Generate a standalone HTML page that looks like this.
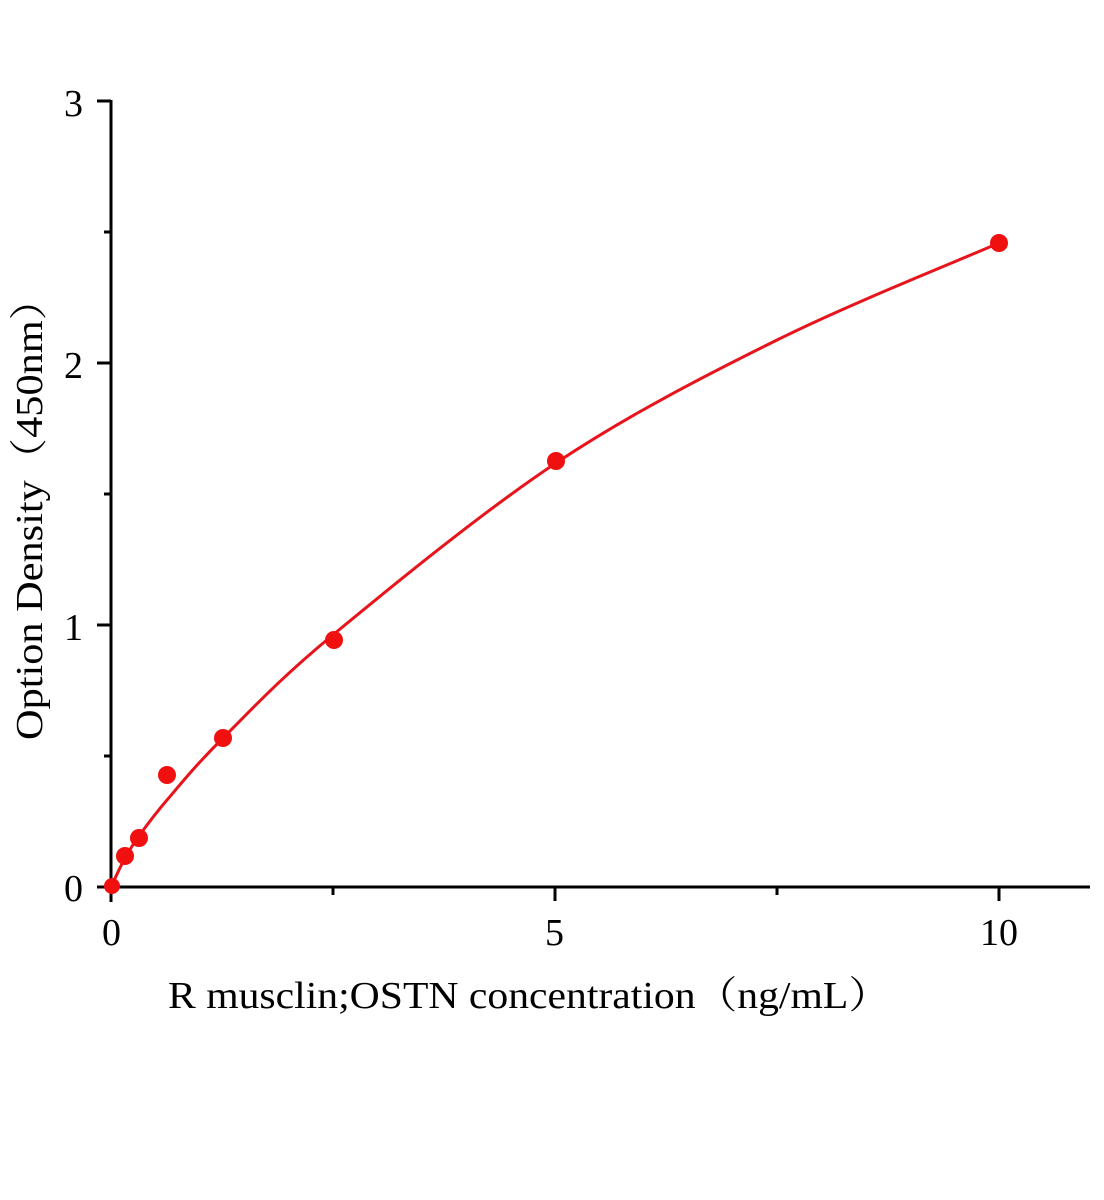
<!DOCTYPE html>
<html><head><style>body{margin:0;background:#fff} text{font-family:"Liberation Serif","Noto Serif CJK SC",serif}</style></head><body>
<svg width="1104" height="1200" xmlns="http://www.w3.org/2000/svg" style="display:block">
<rect width="1104" height="1200" fill="#fff"/>
<g stroke="#000" stroke-width="3" fill="none">
<line x1="111" y1="100" x2="111" y2="902"/>
<line x1="97" y1="887" x2="1090" y2="887"/>
<line x1="97" y1="101" x2="111" y2="101"/>
<line x1="97" y1="363" x2="111" y2="363"/>
<line x1="97" y1="625" x2="111" y2="625"/>
<line x1="104" y1="232" x2="111" y2="232"/>
<line x1="104" y1="494" x2="111" y2="494"/>
<line x1="104" y1="756" x2="111" y2="756"/>
<line x1="555" y1="887" x2="555" y2="901"/>
<line x1="999" y1="887" x2="999" y2="901"/>
<line x1="333" y1="887" x2="333" y2="895"/>
<line x1="777" y1="887" x2="777" y2="895"/>
</g>
<g font-size="38" fill="#000">
<text x="64" y="116">3</text>
<text x="64" y="378">2</text>
<text x="64" y="640">1</text>
<text x="64" y="901">0</text>
<text x="102" y="945">0</text>
<text x="545" y="945">5</text>
<text x="980" y="945">10</text>
<text x="168" y="1008" textLength="722" lengthAdjust="spacingAndGlyphs">R musclin;OSTN concentration（ng/mL）</text>
<text transform="translate(42,740) rotate(-90)" textLength="462" lengthAdjust="spacingAndGlyphs">Option Density（450nm）</text>
</g>
<path d="M111,887 C113.3,882.2 120.3,866.5 125,858 C129.7,849.5 132,845.7 139,836 C146,826.3 153,816.3 167,800 C181,783.7 195.2,765.7 223,738 C250.8,710.3 278.5,679.8 334,634 C389.5,588.2 482.2,512 556,463 C629.8,414 703.2,376.7 777,340 C850.8,303.3 962,259.2 999,243" stroke="#e8141c" stroke-width="3" fill="none"/>
<g fill="#f01010">
<circle cx="112" cy="886" r="8"/>
<circle cx="125" cy="856" r="9"/>
<circle cx="139" cy="838" r="9"/>
<circle cx="167" cy="775" r="9"/>
<circle cx="223" cy="738" r="9"/>
<circle cx="334" cy="640" r="9"/>
<circle cx="556" cy="461" r="9"/>
<circle cx="999" cy="243" r="9"/>
</g>
</svg>
</body></html>
